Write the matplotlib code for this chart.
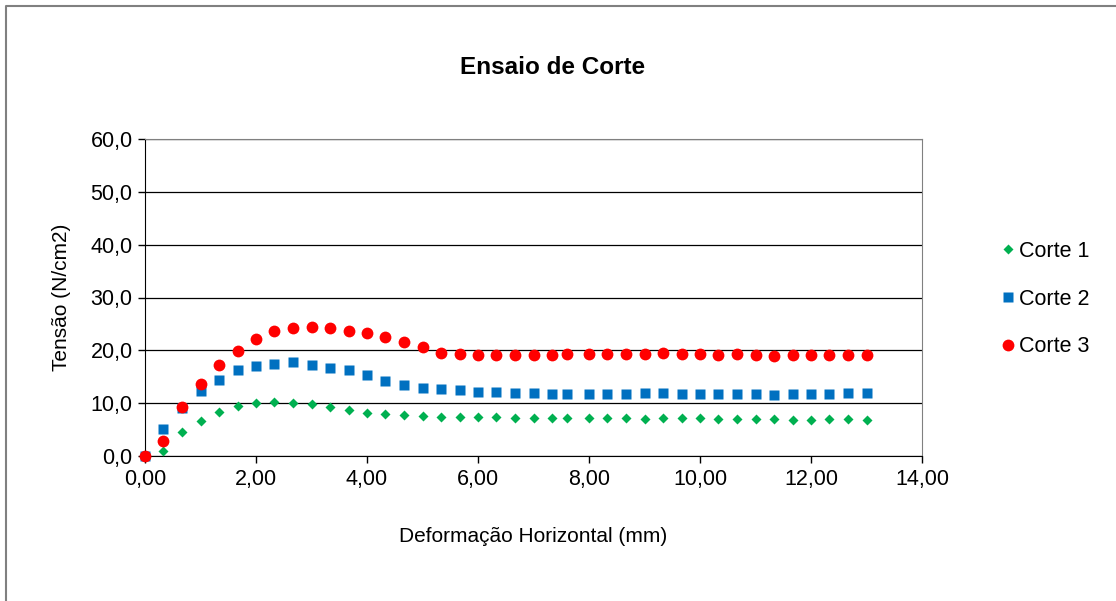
import matplotlib.pyplot as plt
from matplotlib.lines import Line2D
from matplotlib.ticker import FuncFormatter

plt.rcParams['font.family'] = ['Liberation Sans', 'DejaVu Sans']

# deformacao horizontal (mm)
deform = [0.0, 0.33, 0.67, 1.0, 1.33, 1.67, 2.0, 2.33, 2.67, 3.0,
          3.33, 3.67, 4.0, 4.33, 4.67, 5.0, 5.33, 5.67, 6.0, 6.33,
          6.67, 7.0, 7.33, 7.6, 8.0, 8.33, 8.67, 9.0, 9.33, 9.67,
          10.0, 10.33, 10.67, 11.0, 11.33, 11.67, 12.0, 12.33, 12.67, 13.0]

# tensao (N/cm2)
corte1 = [0.0, 0.9, 4.5, 6.7, 8.3, 9.4, 10.1, 10.2, 10.1, 9.8,
          9.2, 8.7, 8.2, 7.9, 7.8, 7.6, 7.4, 7.4, 7.3, 7.4,
          7.2, 7.2, 7.2, 7.1, 7.1, 7.1, 7.1, 7.0, 7.1, 7.1,
          7.1, 7.0, 7.0, 7.0, 7.0, 6.8, 6.8, 7.0, 7.0, 6.8]
corte2 = [0.0, 5.1, 9.1, 12.3, 14.4, 16.2, 17.0, 17.5, 17.7, 17.3,
          16.7, 16.2, 15.3, 14.2, 13.4, 12.9, 12.6, 12.5, 12.2, 12.1,
          11.9, 11.9, 11.8, 11.8, 11.8, 11.8, 11.8, 11.9, 11.9, 11.8,
          11.8, 11.8, 11.8, 11.8, 11.6, 11.8, 11.8, 11.8, 12.0, 11.9]
corte3 = [0.0, 2.9, 9.2, 13.6, 17.3, 19.9, 22.1, 23.6, 24.2, 24.5,
          24.2, 23.7, 23.3, 22.6, 21.5, 20.6, 19.5, 19.4, 19.2, 19.2,
          19.1, 19.2, 19.2, 19.4, 19.4, 19.4, 19.3, 19.4, 19.5, 19.4,
          19.3, 19.2, 19.3, 19.1, 19.0, 19.2, 19.2, 19.1, 19.2, 19.1]

fig = plt.figure(figsize=(11.16, 6.01), dpi=100)
ax = fig.add_axes([145 / 1116, 1 - 456 / 601, 777 / 1116, 317 / 601])

ax.plot(deform, corte1, 'D', color='#00B050', ms=5, mec='none', label='Corte 1',
        zorder=3, clip_on=False)
ax.plot(deform, corte2, 's', color='#0070C0', ms=7.5, mec='none', label='Corte 2',
        zorder=3, clip_on=False)
ax.plot(deform, corte3, 'o', color='#FF0000', ms=8.5, mec='none', label='Corte 3',
        zorder=3, clip_on=False)

ax.set_xlim(0, 14)
ax.set_ylim(0, 60)
ax.set_xticks(range(0, 15, 2))
ax.set_yticks(range(0, 61, 10))
ax.xaxis.set_major_formatter(FuncFormatter(lambda v, p: f'{v:.2f}'.replace('.', ',')))
ax.yaxis.set_major_formatter(FuncFormatter(lambda v, p: f'{v:.1f}'.replace('.', ',')))
ax.tick_params(labelsize=15.5, length=5, width=1, direction='out', pad=4)
ax.grid(axis='y', color='black', lw=0.9)
ax.set_axisbelow(True)
for s in ['top', 'right']:
    ax.spines[s].set_color('#808080')
for s in ['left', 'bottom']:
    ax.spines[s].set_color('black')

ax.set_xlabel('Deformação Horizontal (mm)', fontsize=15, labelpad=27)
ax.set_ylabel('Tensão (N/cm2)', fontsize=15, labelpad=14)
fig.text(553 / 1116, 1 - 68 / 601, 'Ensaio de Corte', fontsize=17.5,
         fontweight='bold', ha='center', va='center')

ax.legend(loc='center left', bbox_to_anchor=(991 / 1116, 1 - 299 / 601),
          bbox_transform=fig.transFigure, frameon=False, fontsize=15.5,
          handlelength=0.6, handletextpad=0.2, labelspacing=1.25, borderpad=0)

# chart area border (only left and top visible)
fig.add_artist(Line2D([6 / 1116, 6 / 1116, 1.01], [-0.01, 1 - 6 / 601, 1 - 6 / 601],
                      transform=fig.transFigure, color='#808080', lw=1.5))

fig.savefig('out.png', dpi=100)
